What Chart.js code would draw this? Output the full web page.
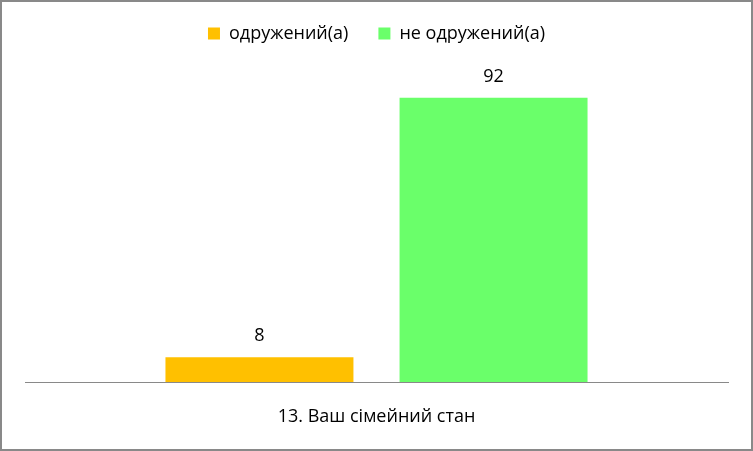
<!DOCTYPE html>
<html>
<head>
<meta charset="utf-8">
<script src="https://cdn.jsdelivr.net/npm/chart.js@4"></script>
<style>
  html, body { margin: 0; padding: 0; background: #fff; }
  #wrap {
    width: 749px; height: 447px;
    border: 2px solid #898989;
    position: relative;
  }
</style>
</head>
<body>
<div id="wrap"><canvas id="chart"></canvas></div>
<script>
// Data
const categories   = ["13. Ваш сімейний стан"];
const seriesNames  = ["одружений(а)", "не одружений(а)"];
const marriedVals  = [8];
const singleVals   = [92];
const seriesColors = ["#FFC000", "#6AFF6A"];

const FONT = "'Open Sans', 'Noto Sans', sans-serif";
Chart.defaults.font.family = FONT;
Chart.defaults.font.size = 18;
Chart.defaults.color = "#000";

// Value labels above each bar (no datalabels plugin available)
const valueLabels = {
  id: "valueLabels",
  afterDatasetsDraw(chart) {
    const ctx = chart.ctx;
    ctx.save();
    ctx.font = "18px " + FONT;
    ctx.fillStyle = "#000";
    ctx.textAlign = "center";
    ctx.textBaseline = "middle";
    chart.data.datasets.forEach((ds, i) => {
      chart.getDatasetMeta(i).data.forEach((bar, j) => {
        ctx.fillText(String(ds.data[j]), bar.x, bar.y - 21);
      });
    });
    ctx.restore();
  },
};

new Chart(document.getElementById("chart"), {
  type: "bar",
  data: {
    labels: categories,
    datasets: [
      { label: seriesNames[0], data: marriedVals, backgroundColor: seriesColors[0] },
      { label: seriesNames[1], data: singleVals,  backgroundColor: seriesColors[1] },
    ],
  },
  options: {
    responsive: true,
    maintainAspectRatio: false,
    animation: false,
    categoryPercentage: 0.666,
    barPercentage: 0.803,
    layout: { padding: { left: 23, right: 23, top: -7.5, bottom: -3 } },
    plugins: {
      legend: {
        position: "top",
        labels: { boxWidth: 12, boxHeight: 12, padding: 30 },
      },
      // empty spacer between legend and plot area
      subtitle: {
        display: true,
        text: "",
        weight: 500,
        font: { size: 10, lineHeight: 1 },
        padding: { top: 0, bottom: 10.5 },
      },
      tooltip: { enabled: false },
    },
    scales: {
      x: {
        grid: { display: false, drawTicks: false },
        border: { display: true, color: "#898989", width: 1 },
        ticks: { padding: 26, font: { lineHeight: 1 } },
      },
      y: {
        display: false,
        min: 0,
        max: 100,
      },
    },
  },
  plugins: [valueLabels],
});
</script>
</body>
</html>
